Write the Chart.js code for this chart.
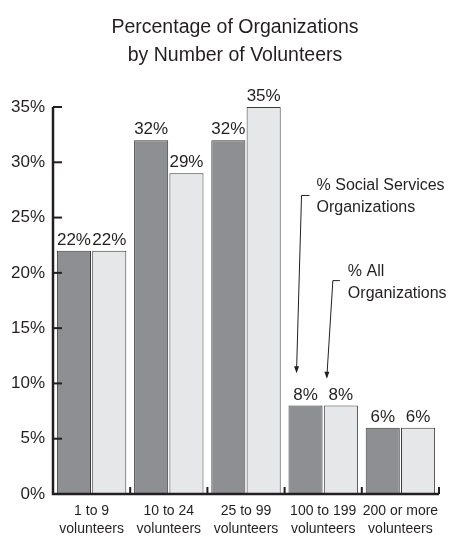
<!DOCTYPE html>
<html>
<head>
<meta charset="utf-8">
<script src="https://cdn.jsdelivr.net/npm/chart.js@4.4.1/dist/chart.umd.min.js"></script>
<style>
  html, body { margin: 0; padding: 0; background: #fff; }
  #wrap { width: 454px; height: 537px; }
</style>
</head>
<body>
<div id="wrap"><canvas id="chart"></canvas></div>
<script>
const categories = [
    ['1 to 9', 'volunteers'],
    ['10 to 24', 'volunteers'],
    ['25 to 99', 'volunteers'],
    ['100 to 199', 'volunteers'],
    ['200 or more', 'volunteers']
];
const socialServices = [22, 32, 32, 8, 6];
const allOrgs = [22, 29, 35, 8, 6];
const yTicks = [0, 5, 10, 15, 20, 25, 30, 35];
const titleLines = ['Percentage of Organizations', 'by Number of Volunteers'];

const FONT = '"Liberation Sans", Arial, Helvetica, sans-serif';
const INK = '#231f20';

// title, value labels, axis ticks and the two pointer notes
const decor = {
    id: 'decor',
    afterDraw(chart) {
        const ctx = chart.ctx;
        const xs = chart.scales.x, ys = chart.scales.y;
        const area = chart.chartArea;
        ctx.save();

        // title
        ctx.fillStyle = INK;
        ctx.textAlign = 'center';
        ctx.textBaseline = 'middle';
        ctx.font = '19.5px ' + FONT;
        ctx.fillText(titleLines[0], 235, 28);
        ctx.fillText(titleLines[1], 235, 56);

        // values over the bars
        ctx.font = '17px ' + FONT;
        ctx.textBaseline = 'alphabetic';
        chart.data.datasets.forEach((ds, di) => {
            chart.getDatasetMeta(di).data.forEach((bar, i) => {
                ctx.fillText(ds.data[i] + '%', bar.x, bar.y - 6);
            });
        });

        // axis lines
        ctx.strokeStyle = INK;
        ctx.lineWidth = 2.5;
        ctx.beginPath();
        ctx.moveTo(area.left, ys.getPixelForValue(35));
        ctx.lineTo(area.left, area.bottom);
        ctx.lineTo(area.right, area.bottom);
        ctx.stroke();

        // y ticks pointing inward
        ctx.lineWidth = 2;
        yTicks.forEach(v => {
            const y = ys.getPixelForValue(v);
            ctx.beginPath();
            ctx.moveTo(area.left, y);
            ctx.lineTo(area.left + 9, y);
            ctx.stroke();
        });

        // x ticks at category boundaries
        const step = xs.getPixelForValue(1) - xs.getPixelForValue(0);
        for (let i = 0; i < categories.length; i++) {
            const x = xs.getPixelForValue(i) + step / 2;
            ctx.beginPath();
            ctx.moveTo(x, area.bottom);
            ctx.lineTo(x, area.bottom - 7);
            ctx.stroke();
        }

        // pointer notes
        const b0 = chart.getDatasetMeta(0).data[3];
        const b1 = chart.getDatasetMeta(1).data[3];
        ctx.lineWidth = 1;
        ctx.fillStyle = INK;
        function pointer(x0, x1, yTop, tipX, tipY) {
            ctx.beginPath();
            ctx.moveTo(x1, yTop);
            ctx.lineTo(x0, yTop);
            ctx.lineTo(tipX, tipY);
            ctx.stroke();
            ctx.beginPath();
            ctx.moveTo(tipX, tipY + 2);
            ctx.lineTo(tipX - 2.5, tipY - 5);
            ctx.lineTo(tipX + 2.5, tipY - 5);
            ctx.closePath();
            ctx.fill();
        }
        pointer(b0.x - 4, b0.x + 4, ys.getPixelForValue(27), b0.x - 9, ys.getPixelForValue(11.1));
        pointer(b1.x - 8, b1.x - 1, ys.getPixelForValue(19.3), b1.x - 14, ys.getPixelForValue(10.6));

        ctx.font = '16px ' + FONT;
        ctx.textAlign = 'left';
        ctx.textBaseline = 'middle';
        ctx.fillText('% Social Services', b0.x + 11, ys.getPixelForValue(27.9));
        ctx.fillText('Organizations', b0.x + 11, ys.getPixelForValue(25.9));
        ctx.fillText('% All', b1.x + 7, ys.getPixelForValue(20.1));
        ctx.fillText('Organizations', b1.x + 7, ys.getPixelForValue(18.1));

        ctx.restore();
    }
};

new Chart(document.getElementById('chart'), {
    type: 'bar',
    data: {
        labels: categories,
        datasets: [{
            label: '% Social Services Organizations',
            data: socialServices,
            backgroundColor: '#8e8f92',
            borderColor: '#3a3a3a',
            borderWidth: 1
        }, {
            label: '% All Organizations',
            data: allOrgs,
            backgroundColor: '#e6e7e8',
            borderColor: '#3a3a3a',
            borderWidth: 1
        }]
    },
    options: {
        responsive: true,
        maintainAspectRatio: false,
        animation: false,
        categoryPercentage: 0.915,
        barPercentage: 0.965,
        layout: { padding: { top: 107, right: 15, left: 0, bottom: 0 } },
        plugins: {
            legend: { display: false },
            tooltip: { enabled: false },
            title: { display: false }
        },
        scales: {
            x: {
                grid: { display: false, tickLength: 0 },
                border: { display: false },
                ticks: {
                    color: INK,
                    font: { family: FONT, size: 14, lineHeight: 1.3 },
                    maxRotation: 0,
                    autoSkip: false,
                    padding: 8
                },
                afterFit(scale) { scale.height = 43; }
            },
            y: {
                min: 0,
                max: 35,
                grid: { display: false, tickLength: 0 },
                border: { display: false },
                ticks: {
                    stepSize: 5,
                    color: INK,
                    font: { family: FONT, size: 17 },
                    padding: 8,
                    callback: v => v + '%'
                },
                afterFit(scale) { scale.width = 53; }
            }
        }
    },
    plugins: [decor]
});
</script>
</body>
</html>
